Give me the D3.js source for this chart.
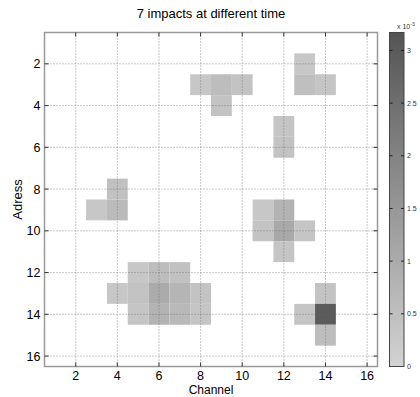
<!DOCTYPE html>
<html>
<head>
<meta charset="utf-8">
<script src="https://cdn.jsdelivr.net/npm/d3@7"></script>
<style>
  body { margin: 0; background: #fff; }
  svg { display: block; font-family: "Liberation Sans", Arial, sans-serif; }
</style>
</head>
<body>
<svg id="chart"></svg>
<script>
// non-zero cells only: [channel, address, value]
const channels = [13, 13, 14, 8, 9, 10, 9, 12, 12, 4, 3, 4, 11, 12, 11, 12, 13, 12, 5, 6, 7, 4, 5, 6, 7, 8, 5, 6, 7, 8, 14, 13, 14, 14];
const addresses = [2, 3, 3, 3, 3, 3, 4, 5, 6, 8, 9, 9, 9, 9, 10, 10, 10, 11, 12, 12, 12, 13, 13, 13, 13, 13, 14, 14, 14, 14, 13, 14, 14, 15];
const values = [0.30, 0.50, 0.35, 0.30, 0.55, 0.40, 0.40, 0.35, 0.40, 0.45, 0.30, 0.60, 0.30, 0.80, 0.40, 1.05, 0.35, 0.35,
  0.30, 0.55, 0.45, 0.30, 0.40, 1.00, 0.75, 0.40, 0.35, 0.80, 0.65, 0.35, 0.40, 0.35, 3.00, 0.55].map(v => v * 1e-3);
const ticks = [2, 4, 6, 8, 10, 12, 14, 16];
const cbTicks = [0, 0.5, 1, 1.5, 2, 2.5, 3];
const vmax = 3.17e-3;

const width = 420, height = 397;
const mLeft = 44.5, mRight = 377.5, mTop = 32.5, mBottom = 366.5;

const svg = d3.select("#chart").attr("width", width).attr("height", height);

const x = d3.scaleLinear().domain([0.5, 16.5]).range([mLeft, mRight]);
const y = d3.scaleLinear().domain([0.5, 16.5]).range([mTop, mBottom]);
const color = d3.scaleLinear().domain([0, vmax]).range(["#d3d3d3", "#545454"]);

const cells = channels.map((c, i) => ({c, a: addresses[i], v: values[i]}));

svg.append("g").selectAll("rect")
  .data(cells)
  .join("rect")
    .attr("x", d => x(d.c - 0.5))
    .attr("y", d => y(d.a - 0.5))
    .attr("width", x(1.5) - x(0.5))
    .attr("height", y(1.5) - y(0.5))
    .attr("fill", d => color(d.v));

// dotted grid on top
const grid = svg.append("g").attr("stroke", "#666").attr("stroke-width", 0.7).attr("stroke-dasharray", "1,2");
grid.selectAll(".gx").data(ticks).join("line")
  .attr("x1", d => x(d)).attr("x2", d => x(d)).attr("y1", mTop).attr("y2", mBottom);
grid.selectAll(".gy").data(ticks).join("line")
  .attr("y1", d => y(d)).attr("y2", d => y(d)).attr("x1", mLeft).attr("x2", mRight);

// frame
svg.append("rect").attr("x", mLeft).attr("y", mTop).attr("width", mRight - mLeft).attr("height", mBottom - mTop)
  .attr("fill", "none").attr("stroke", "#999").attr("stroke-width", 1.5);

// inner ticks
const tk = svg.append("g").attr("stroke", "#333").attr("stroke-width", 1);
tk.selectAll(".tb").data(ticks).join("line")
  .attr("x1", d => x(d)).attr("x2", d => x(d)).attr("y1", mBottom).attr("y2", mBottom - 4);
tk.selectAll(".tt").data(ticks).join("line")
  .attr("x1", d => x(d)).attr("x2", d => x(d)).attr("y1", mTop).attr("y2", mTop + 4);
tk.selectAll(".tl").data(ticks).join("line")
  .attr("y1", d => y(d)).attr("y2", d => y(d)).attr("x1", mLeft).attr("x2", mLeft + 4);
tk.selectAll(".tr").data(ticks).join("line")
  .attr("y1", d => y(d)).attr("y2", d => y(d)).attr("x1", mRight).attr("x2", mRight - 4);

// tick labels
svg.append("g").selectAll("text").data(ticks).join("text")
  .attr("x", d => x(d)).attr("y", mBottom + 13.5)
  .attr("text-anchor", "middle").attr("font-size", 12.5).text(d => d);
svg.append("g").selectAll("text").data(ticks).join("text")
  .attr("x", mLeft - 4).attr("y", d => y(d)).attr("dy", "0.36em")
  .attr("text-anchor", "end").attr("font-size", 12.5).text(d => d);

// titles
svg.append("text").attr("x", (mLeft + mRight) / 2).attr("y", 18)
  .attr("text-anchor", "middle").attr("font-size", 13).text("7 impacts at different time");
svg.append("text").attr("x", (mLeft + mRight) / 2).attr("y", 394)
  .attr("text-anchor", "middle").attr("font-size", 12).text("Channel");
svg.append("text").attr("transform", `translate(22,${(mTop + mBottom) / 2}) rotate(-90)`)
  .attr("text-anchor", "middle").attr("font-size", 13).text("Adress");

// colorbar
const cbL = 389.5, cbR = 404;
const cy = d3.scaleLinear().domain([0, vmax]).range([mBottom, mTop]);
const defs = svg.append("defs");
const grad = defs.append("linearGradient").attr("id", "cbgrad")
  .attr("x1", 0).attr("y1", 1).attr("x2", 0).attr("y2", 0);
grad.selectAll("stop").data([0, vmax]).join("stop")
  .attr("offset", (d, i) => i).attr("stop-color", d => color(d));
svg.append("rect").attr("x", cbL).attr("y", mTop).attr("width", cbR - cbL).attr("height", mBottom - mTop)
  .attr("fill", "url(#cbgrad)").attr("stroke", "#444").attr("stroke-width", 1);
const ctk = svg.append("g").attr("stroke", "#222").attr("stroke-width", 1);
ctk.selectAll(".cl").data(cbTicks.slice(1)).join("line")
  .attr("x1", cbL).attr("x2", cbL + 3).attr("y1", d => cy(d * 1e-3)).attr("y2", d => cy(d * 1e-3));
ctk.selectAll(".cr").data(cbTicks.slice(1)).join("line")
  .attr("x1", cbR).attr("x2", cbR - 3).attr("y1", d => cy(d * 1e-3)).attr("y2", d => cy(d * 1e-3));
svg.append("g").selectAll("text").data(cbTicks).join("text")
  .attr("x", cbR + 3).attr("y", d => cy(d * 1e-3)).attr("dy", "0.35em")
  .attr("font-size", 7).attr("fill", "#333").text(d => d);
const exp = svg.append("text").attr("x", 397).attr("y", 29).attr("font-size", 7).attr("fill", "#333");
exp.append("tspan").text("x 10");
exp.append("tspan").attr("dy", -3).attr("font-size", 5).text("-3");
</script>
</body>
</html>
